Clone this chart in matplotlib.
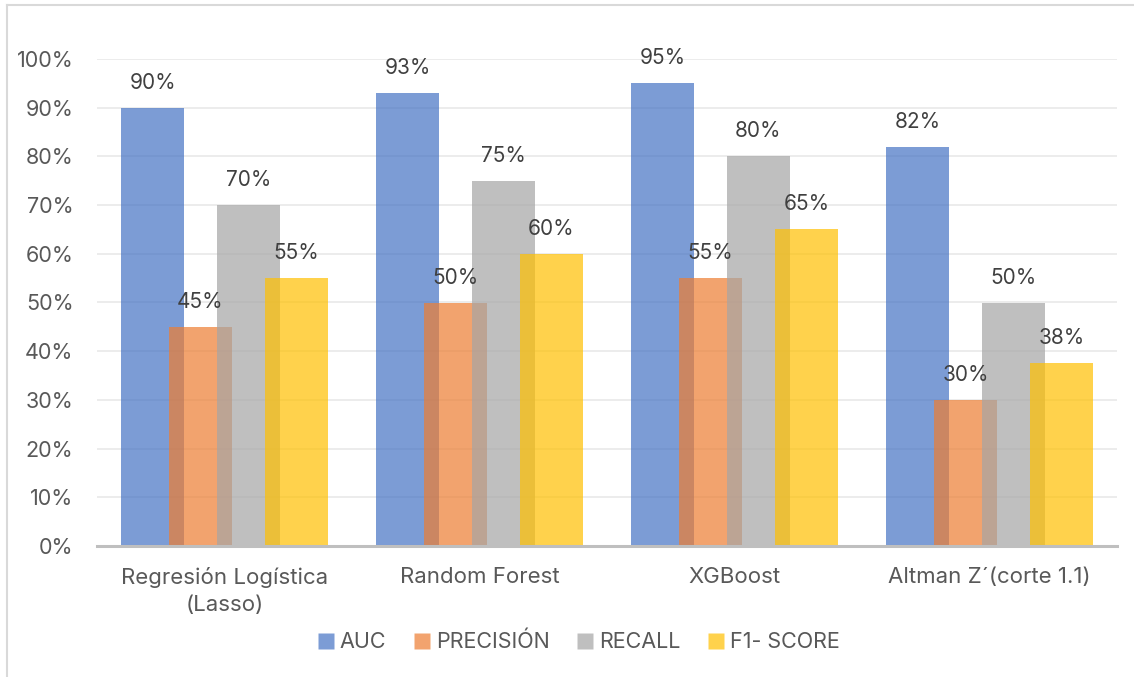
import numpy as np
import matplotlib
matplotlib.use('Agg')
import matplotlib.pyplot as plt
from matplotlib.lines import Line2D
from matplotlib.ticker import PercentFormatter, MultipleLocator

# ── Data ─────────────────────────────────────────────────────
models = ['Regresión Logística\n(Lasso)', 'Random Forest', 'XGBoost', 'Altman Z´(corte 1.1)']
auc = [0.90, 0.93, 0.95, 0.82]
precision = [0.45, 0.50, 0.55, 0.30]
recall = [0.70, 0.75, 0.80, 0.50]
f1 = [0.55, 0.60, 0.65, 0.375]

series_names = ['AUC', 'PRECISIÓN', 'RECALL', 'F1- SCORE']
series_vals = [auc, precision, recall, f1]
colors = ['#4472C4', '#ED7D31', '#A5A5A5', '#FFC000']
TXT = '#595959'
FS = 15.5

plt.rcParams['font.family'] = ['Inter', 'DejaVu Sans']

fig = plt.figure(figsize=(11.34, 6.77), dpi=100)
ax = fig.add_axes([97/1134, 1 - 546/677, 1020/1134, 487/677])

x = np.arange(len(models))
width = 0.247
step = 0.188
for i, (name, vals, c) in enumerate(zip(series_names, series_vals, colors)):
    pos = x + (i - 1.5) * step
    bars = ax.bar(pos, vals, width, color=c, alpha=0.7, label=name, zorder=2 + i)
    for b, v in zip(bars, vals):
        ax.annotate(f'{v:.0%}', (b.get_x() + b.get_width() / 2, v),
                    xytext=(0, 18), textcoords='offset points',
                    ha='center', va='center', fontsize=15, color='#404040',
                    zorder=10)

ax.set_xlim(-0.5, len(models) - 0.5)
ax.set_ylim(0, 1)
ax.yaxis.set_major_locator(MultipleLocator(0.1))
ax.yaxis.set_major_formatter(PercentFormatter(1.0, decimals=0))
ax.set_xticks(x)
ax.set_xticklabels(models, fontsize=16, color=TXT, linespacing=1.45)
ax.tick_params(axis='y', length=0, pad=17, labelsize=FS, labelcolor=TXT)
ax.tick_params(axis='x', length=0, pad=15)
ax.grid(axis='y', color='#EBEBEB', linewidth=1.3, zorder=0)
ax.set_axisbelow(True)
for s in ['top', 'right', 'left']:
    ax.spines[s].set_visible(False)
ax.spines['bottom'].set_color('#BFBFBF')
ax.spines['bottom'].set_linewidth(2.2)
ax.spines['bottom'].set_zorder(20)

handles = [Line2D([], [], marker='s', linestyle='', markersize=11,
                  markerfacecolor=c, markeredgecolor='none', alpha=0.7)
           for c in colors]
leg = fig.legend(handles, series_names, loc='center', bbox_to_anchor=(579/1134, 1 - 642/677),
                 ncol=4, frameon=False, fontsize=FS, handlelength=0.7,
                 handletextpad=0.3, columnspacing=1.3)
for t in leg.get_texts():
    t.set_color(TXT)

# outer chart border (left and top edges)
fig.add_artist(Line2D([7/1134, 7/1134], [0, 1 - 5/677], color='#D9D9D9', linewidth=1.5))
fig.add_artist(Line2D([7/1134, 1], [1 - 5/677, 1 - 5/677], color='#D9D9D9', linewidth=1.5))

fig.savefig('out.png', dpi=100, facecolor='white')
plt.close(fig)
